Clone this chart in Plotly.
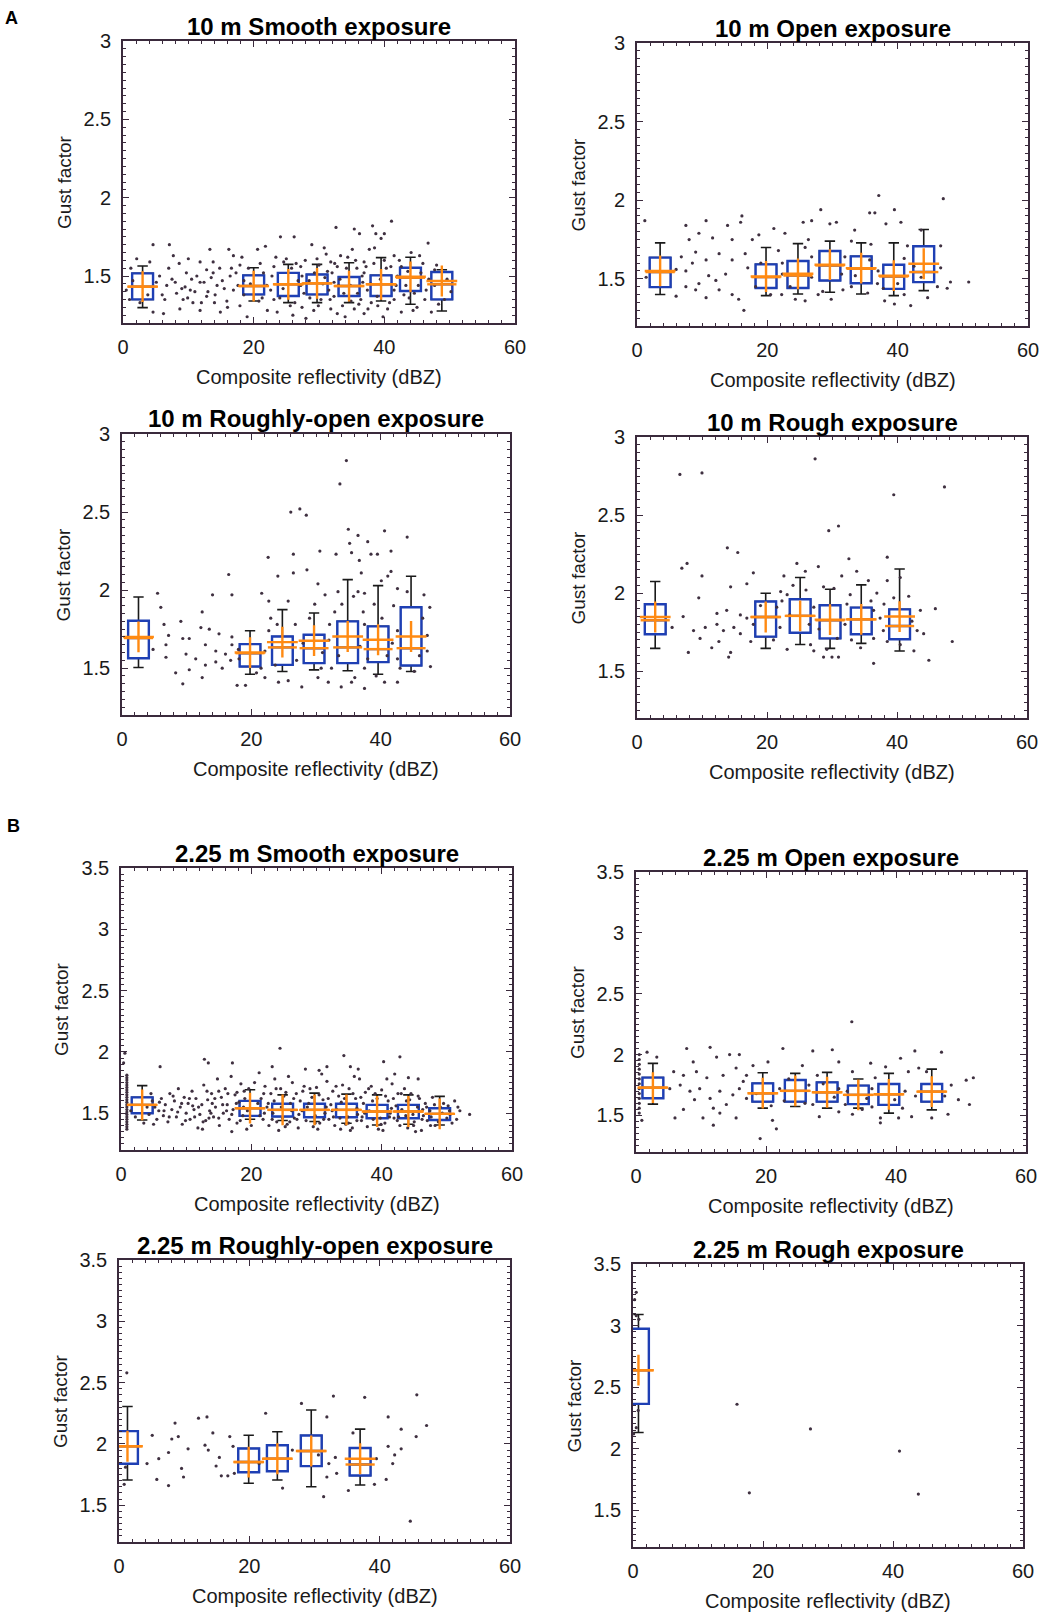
import plotly.graph_objects as go

# ---------------- data ----------------
TITLES = ["10 m Smooth exposure", "10 m Open exposure",
          "10 m Roughly-open exposure", "10 m Rough exposure",
          "2.25 m Smooth exposure", "2.25 m Open exposure",
          "2.25 m Roughly-open exposure", "2.25 m Rough exposure"]
X_TITLE = "Composite reflectivity (dBZ)"
Y_TITLE = "Gust factor"
X_TICKS = [0, 20, 40, 60]
Y_TICKS_A = [1.5, 2, 2.5, 3]
Y_TICK_TEXT_A = ["1.5", "2", "2.5", "3"]
Y_TICKS_B = [1.5, 2, 2.5, 3, 3.5]
Y_TICK_TEXT_B = ["1.5", "2", "2.5", "3", "3.5"]

# box statistics per panel: bin position, q1, median, q3, whisker low/high, mean
BX1 = [3.0, 20.0, 25.3, 29.7, 34.6, 39.5, 44.0, 48.8]
Q1_1 = [1.351, 1.383, 1.372, 1.383, 1.372, 1.372, 1.404, 1.351]
MED1 = [1.432, 1.436, 1.447, 1.453, 1.436, 1.447, 1.489, 1.447]
Q3_1 = [1.517, 1.504, 1.520, 1.510, 1.494, 1.504, 1.553, 1.526]
LO1 = [1.298, 1.340, 1.330, 1.330, 1.330, 1.340, 1.320, 1.277]
HI1 = [1.564, 1.553, 1.574, 1.574, 1.585, 1.617, 1.620, 1.540]
MEAN1 = [1.432, 1.436, 1.447, 1.453, 1.436, 1.447, 1.495, 1.468]

BX2 = [3.55, 19.8, 24.7, 29.6, 34.4, 39.4, 44.0]
Q1_2 = [1.447, 1.442, 1.442, 1.489, 1.472, 1.436, 1.479]
MED2 = [1.543, 1.511, 1.521, 1.585, 1.564, 1.515, 1.543]
Q3_2 = [1.635, 1.592, 1.613, 1.677, 1.643, 1.590, 1.707]
LO2 = [1.400, 1.393, 1.404, 1.415, 1.404, 1.393, 1.425]
HI2 = [1.729, 1.699, 1.724, 1.740, 1.729, 1.729, 1.814]
MEAN2 = [1.550, 1.515, 1.532, 1.590, 1.568, 1.520, 1.596]

BX3 = [2.55, 19.8, 24.8, 29.7, 34.9, 39.6, 44.7]
Q1_3 = [1.564, 1.511, 1.521, 1.532, 1.532, 1.539, 1.517]
MED3 = [1.693, 1.596, 1.633, 1.628, 1.633, 1.622, 1.628]
Q3_3 = [1.804, 1.654, 1.703, 1.714, 1.800, 1.768, 1.890]
LO3 = [1.504, 1.461, 1.479, 1.489, 1.483, 1.461, 1.479]
HI3 = [1.956, 1.740, 1.875, 1.853, 2.067, 2.029, 2.089]
MEAN3 = [1.700, 1.600, 1.667, 1.676, 1.703, 1.682, 1.703]

BX4 = [2.8, 19.8, 25.1, 29.7, 34.5, 40.4]
Q1_4 = [1.736, 1.721, 1.746, 1.710, 1.736, 1.704]
MED4 = [1.826, 1.847, 1.854, 1.826, 1.832, 1.789]
Q3_4 = [1.929, 1.946, 1.961, 1.922, 1.907, 1.896]
LO4 = [1.646, 1.646, 1.671, 1.646, 1.678, 1.629]
HI4 = [2.074, 1.999, 2.100, 2.025, 2.053, 2.154]
MEAN4 = [1.847, 1.847, 1.854, 1.830, 1.832, 1.850]

BX5 = [3.25, 19.8, 24.8, 29.7, 34.6, 39.3, 44.1, 48.9]
Q1_5 = [1.500, 1.478, 1.473, 1.467, 1.467, 1.459, 1.459, 1.445]
MED5 = [1.568, 1.541, 1.527, 1.527, 1.527, 1.514, 1.514, 1.495]
Q3_5 = [1.629, 1.601, 1.577, 1.577, 1.577, 1.568, 1.568, 1.541]
LO5 = [1.445, 1.451, 1.440, 1.432, 1.418, 1.404, 1.410, 1.404]
HI5 = [1.725, 1.692, 1.650, 1.664, 1.656, 1.650, 1.650, 1.637]
MEAN5 = [1.568, 1.541, 1.527, 1.527, 1.527, 1.514, 1.514, 1.495]

BX6 = [2.6, 19.5, 24.5, 29.4, 34.2, 38.9, 45.5]
Q1_6 = [1.642, 1.614, 1.614, 1.614, 1.593, 1.587, 1.614]
MED6 = [1.729, 1.683, 1.702, 1.691, 1.669, 1.674, 1.696]
Q3_6 = [1.811, 1.764, 1.792, 1.772, 1.745, 1.759, 1.759]
LO6 = [1.593, 1.560, 1.574, 1.560, 1.560, 1.519, 1.546]
HI6 = [1.928, 1.851, 1.846, 1.854, 1.800, 1.846, 1.881]
MEAN6 = [1.729, 1.683, 1.702, 1.691, 1.669, 1.674, 1.696]

BX7 = [1.3, 19.9, 24.3, 29.5, 37.0]
Q1_7 = [1.838, 1.769, 1.777, 1.819, 1.742]
MED7 = [1.981, 1.852, 1.879, 1.942, 1.832]
Q3_7 = [2.104, 1.962, 1.989, 2.069, 1.967]
LO7 = [1.706, 1.679, 1.706, 1.651, 1.665]
HI7 = [2.305, 2.071, 2.099, 2.277, 2.121]
MEAN7 = [1.981, 1.852, 1.879, 1.942, 1.879]

BX8 = [0.84]
Q1_8 = [2.363]
MED8 = [2.637]
Q3_8 = [2.974]
LO8 = [2.130]
HI8 = [3.089]
MEAN8 = [2.637]

# individual observations (reflectivity, gust factor)
PTS1 = [(32.6,1.81),(41.1,1.85),(38.2,1.82),(38.7,1.77),(40,1.77),(36.2,1.77),(35.4,1.80),(39.5,1.74),
        (24.1,1.75),(26.2,1.75),(46.7,1.71),(4.6,1.70),(7.1,1.70),(13.3,1.67),(16.2,1.67),(20.6,1.67),
        (21.8,1.69),(28.9,1.70),(30.8,1.68),(35.1,1.67),(37.7,1.67),(38.5,1.68),(45.4,1.63),(41.5,1.63),
        (44.1,1.65),(2.1,1.61),(4.1,1.59),(7.7,1.63),(10,1.61),(11.8,1.59),(13.8,1.59),(16.9,1.63),
        (17.9,1.57),(24.6,1.59),(27.2,1.56),(29.7,1.61),(31.8,1.59),(33.3,1.63),(34.4,1.62),(36.9,1.59),
        (42.6,1.56),(47.7,1.54),(0.5,1.41),(5.1,1.46),(6.7,1.44),(8.2,1.39),(9.2,1.35),(10.3,1.41),
        (11.8,1.46),(12.8,1.37),(14.4,1.44),(15.9,1.34),(16.9,1.41),(17.9,1.31),(4.6,1.27),(6.2,1.26),
        (8.7,1.29),(11.8,1.28),(14.9,1.27),(19,1.24),(22.1,1.28),(23.1,1.35),(27.4,1.30),(28,1.23),
        (31.8,1.29),(32.3,1.37),(32.8,1.26),(35.4,1.29),(36.4,1.35),(36.9,1.26),(40.5,1.29),(41.5,1.35),
        (42.6,1.27),(46.2,1.35),(46.4,1.41),(47.2,1.27),(49.2,1.35),(41.5,1.41),(37.4,1.41),(32.3,1.46),
        (27.2,1.44),(22.6,1.41),(9.7,1.52),(11.3,1.50),(13.8,1.52),(16.4,1.50),(12.8,1.54),(31.3,1.53),
        (36.9,1.52),(45.6,1.52),(44.6,1.39),(47.7,1.44),(21.5,1.52),(22,1.44),(23.1,1.56),(27.4,1.50),
        (27.7,1.39),(31.5,1.41),(32,1.52),(36.7,1.46),(37.2,1.56),(42,1.50),(41,1.56),(32.8,1.56),
        (33.8,1.39),(30.3,1.35),(25.6,1.31),(23.6,1.27),(39,1.31),(34.9,1.34),(1.2,1.55),(7.5,1.48),
        (9.5,1.43),(13.0,1.40),(15.2,1.47),(18.5,1.38),(19.5,1.45),(24.0,1.36),(26.5,1.58),(28.5,1.47),
        (30.9,1.49),(33.0,1.44),(35.9,1.39),(38.0,1.33),(40.0,1.60),(43.3,1.44),(45.0,1.30),(48.3,1.32),
        (2.6,1.33),(6.0,1.38),(10.7,1.33),(14.0,1.33),(17.3,1.52),(20.8,1.34),(26.0,1.25),(29.2,1.28),
        (34.0,1.24),(37.5,1.29),(39.8,1.24),(43.8,1.36),(30.0,1.57),(35.8,1.55),(25.0,1.61),
        (18.5,1.47),(19.2,1.55),(21.0,1.58),(21.3,1.36),(22.8,1.50),(23.4,1.62),(24.5,1.42),(25.8,1.55),
        (26.3,1.33),(26.8,1.47),(27.9,1.60),(28.6,1.36),(29.3,1.52),(29.9,1.31),(30.6,1.45),(31.1,1.64),
        (31.7,1.35),(32.4,1.58),(33.2,1.48),(33.6,1.31),(34.2,1.55),(34.8,1.44),(35.6,1.60),(36.1,1.32),
        (36.6,1.50),(37.9,1.45),(38.4,1.58),(38.9,1.37),(39.4,1.48),(40.3,1.55),(40.8,1.33),(41.8,1.44),
        (42.3,1.60),(43.0,1.38),(43.6,1.53),(44.4,1.28),(45.2,1.44),(45.9,1.58),(46.8,1.48),(48.0,1.57),
        (49.6,1.48),(50.2,1.40),(5.6,1.50),(6.4,1.35),(7.0,1.55),(8.0,1.46),(8.6,1.58),(9.0,1.42),
        (9.9,1.36),(10.5,1.48),(11.0,1.40),(12.0,1.33),(12.4,1.46),(13.5,1.49),(14.1,1.38),(14.8,1.55),
        (15.5,1.42),(16.0,1.30),(16.6,1.55),(17.6,1.44),(18.2,1.62),(3.8,1.38),(1.5,1.47),(1.0,1.35)]

PTS2 = [(37.1,2.03),(47,2.01),(28.2,1.94),(39.5,1.94),(35.7,1.92),(36.5,1.92),(16.1,1.90),(15.9,1.86),
        (10.6,1.87),(7.5,1.84),(1.2,1.87),(25.5,1.86),(26.8,1.87),(29.6,1.85),(30.6,1.86),(38.2,1.85),
        (40.5,1.86),(33.4,1.81),(43.6,1.81),(13.9,1.84),(21,1.82),(22.7,1.79),(18.7,1.78),(9.5,1.79),
        (8,1.75),(11.6,1.76),(14.6,1.75),(17.7,1.75),(26.3,1.75),(25.8,1.70),(32.9,1.74),(35.9,1.72),
        (41.5,1.71),(46.6,1.71),(6.8,1.64),(9,1.67),(10.6,1.62),(12.6,1.66),(14.6,1.62),(16.6,1.66),
        (21.7,1.68),(22.3,1.60),(26.8,1.64),(31.9,1.64),(35.7,1.62),(41,1.63),(48.1,1.48),(50.9,1.48),
        (6,1.39),(7.5,1.45),(9,1.43),(10.6,1.38),(12.6,1.43),(14.6,1.40),(15.6,1.37),(16.4,1.30),
        (18.2,1.45),(12.1,1.49),(13.6,1.53),(9.5,1.47),(7.5,1.55),(22.2,1.40),(24.3,1.37),(25.8,1.36),
        (27.8,1.40),(29.8,1.37),(31.6,1.43),(32.9,1.45),(35.4,1.41),(36.9,1.47),(38,1.36),(39.5,1.34),
        (42,1.33),(41,1.40),(46.1,1.45),(44.6,1.38),(47.6,1.44),(46.6,1.57),(37,1.55),(31.4,1.53),
        (26.8,1.51),(22.3,1.53),(6,1.56),(1.4,1.51),(43.6,1.51),(11.0,1.52),(8.5,1.60),(17.0,1.57),
        (23.5,1.45),(28.5,1.42),(33.5,1.52),(37.8,1.44),(40.0,1.47),(42.5,1.58),(20.5,1.40),(19.0,1.60)]

PTS3 = [(34.7,2.83),(33.7,2.68),(26.1,2.50),(27.5,2.52),(28.5,2.48),(35,2.39),(36.5,2.35),(40.6,2.38),
        (38,2.31),(44.1,2.34),(35.2,2.30),(30.6,2.25),(41.6,2.25),(35.5,2.24),(38.5,2.23),(39.5,2.23),
        (26.5,2.23),(22.6,2.21),(33.1,2.23),(36.7,2.19),(28.6,2.13),(26.5,2.11),(16.5,2.10),(41.6,2.12),
        (41.1,2.09),(24.1,2.09),(36.5,1.99),(37.5,1.98),(37,2.11),(40.1,2.06),(5.5,1.98),(14,1.97),
        (17,1.97),(21.6,1.98),(30.3,2.04),(31.4,1.97),(33.4,1.99),(42.6,2.01),(46.7,1.97),(44.1,1.99),
        (6,1.89),(12.4,1.86),(47.6,1.89),(22.7,1.93),(25.7,1.93),(29.8,1.91),(32.9,1.86),(39,1.91),
        (6.5,1.78),(9.1,1.80),(7.2,1.71),(6.8,1.65),(4.8,1.62),(6.8,1.57),(9.4,1.69),(10.4,1.69),
        (12.2,1.76),(13.5,1.75),(15,1.72),(17,1.70),(12.9,1.65),(14.5,1.61),(16,1.59),(9.9,1.59),
        (11.4,1.56),(12.9,1.52),(8.3,1.47),(10.4,1.49),(12.4,1.44),(9.4,1.40),(17.8,1.39),(19.1,1.39),
        (22.1,1.44),(24.2,1.41),(25.7,1.42),(27.8,1.38),(30.3,1.44),(31.9,1.41),(33.9,1.38),(35.5,1.41),
        (37.5,1.37),(40.6,1.41),(42.6,1.41),(45.2,1.48),(47.7,1.51),(47.2,1.61),(22.1,1.61),(22.7,1.74),
        (26.8,1.78),(32.1,1.78),(37.5,1.78),(42.6,1.74),(47.2,1.71),(17,1.65),(18.1,1.56),(23.7,1.52),
        (32.4,1.50),(37.5,1.50),(42.6,1.56),(14.5,1.54),(15.5,1.50),(16.8,1.55),(18.0,1.62),(21.5,1.50),
        (27.0,1.55),(28.0,1.66),(31.0,1.60),(32.0,1.68),(33.5,1.58),(36.8,1.64),(37.3,1.86),(38.0,1.56),
        (41.8,1.66),(42.0,1.90),(43.0,1.50),(46.0,1.58),(46.5,1.82),(35.8,1.96),(34.0,1.91),(36.0,1.44),
        (39.3,1.45),(40.2,1.82),(41.0,1.58),(20.8,1.47),(23.0,1.82),(24.0,1.78),(29.0,1.82),(30.8,1.50)]

PTS4 = [(27.4,2.86),(6.6,2.76),(10,2.77),(47.3,2.68),(39.5,2.63),(31,2.43),(29.5,2.40),(13.9,2.29),
        (15.5,2.26),(32.6,2.22),(38.5,2.23),(6.9,2.16),(7.7,2.19),(24.6,2.19),(27.9,2.17),(25.9,2.14),
        (33.8,2.14),(35.6,2.08),(10,2.11),(17.9,2.13),(22.6,2.11),(31.5,2.11),(40.5,2.10),(38.5,2.08),
        (9.5,1.97),(14.4,2.04),(16.9,2.06),(22.1,2.01),(23.1,1.99),(28.7,2.04),(30.3,2.03),(32.8,1.99),
        (36.9,2.00),(39.5,1.97),(45.9,1.90),(12.3,1.87),(13.8,1.89),(15.9,1.86),(16.9,1.84),(21.5,1.91),
        (22.3,1.95),(27.2,1.91),(32.3,1.93),(36.4,1.89),(37.4,1.84),(43.6,1.89),(42.3,1.82),(5.4,1.78),
        (7.1,1.85),(8.7,1.76),(10.5,1.78),(12.3,1.80),(13.3,1.76),(14.9,1.78),(15.9,1.74),(17.9,1.80),
        (37.9,1.76),(43.1,1.76),(44.1,1.74),(48.5,1.69),(38.5,1.69),(36.4,1.71),(30.8,1.71),(26.7,1.67),
        (23.1,1.64),(9.7,1.71),(11.5,1.65),(12.6,1.69),(7.9,1.62),(14.1,1.59),(14.4,1.62),(27.2,1.63),
        (28.7,1.59),(30,1.59),(31,1.59),(29.2,1.64),(42.6,1.63),(36.4,1.55),(44.9,1.57),(40.5,1.67),
        (34.4,1.65),(22.0,1.78),(23.5,1.86),(26.5,1.80),(28.0,1.77),(32.0,1.80),(33.0,1.70),(36.0,1.95),
        (38.0,1.93),(41.8,1.98),(17.5,1.69),(19.0,1.92),(21.0,1.70),(24.0,2.05),(26.0,2.02)]

PTS5 = [(24.4,2.03),(34.2,1.97),(42.8,1.96),(12.8,1.94),(13.4,1.91),(6,1.88),(17.1,1.91),(40.3,1.92),
        (28.3,1.86),(30.4,1.85),(31.6,1.88),(35.2,1.88),(36.4,1.86),(42,1.82),(44.1,1.79),(45.6,1.78),
        (23.2,1.88),(21.2,1.83),(0.4,1.91),(0.6,1.99),(53.5,1.49),(51.7,1.55),
        (0.9,1.37),(0.9,1.39),(0.9,1.41),(0.9,1.43),(0.9,1.45),(0.9,1.47),(0.9,1.49),(0.9,1.51),
        (0.9,1.53),(0.9,1.55),(0.9,1.57),(0.9,1.59),(0.9,1.61),(0.9,1.63),(0.9,1.65),(0.9,1.67),
        (0.9,1.69),(0.9,1.71),(0.9,1.73),(0.9,1.75),(0.9,1.77),(0.9,1.79),(0.9,1.81),
        (1.5,1.52),(2.2,1.47),(4.8,1.60),(5.2,1.55),(5.5,1.45),(4.6,1.66),(3.5,1.42),(5.8,1.52),
        (6.2,1.62),(6.5,1.48),(6.8,1.57),(7.2,1.43),(7.5,1.66),(7.8,1.53),(8.2,1.60),(8.5,1.47),
        (8.8,1.70),(9.1,1.55),(9.4,1.41),(9.7,1.63),(10.0,1.50),(10.3,1.58),(10.6,1.45),(10.9,1.68),
        (11.2,1.53),(11.5,1.62),(11.8,1.38),(12.1,1.49),(12.4,1.57),(12.7,1.73),(13.0,1.44),(13.3,1.61),
        (13.6,1.52),(13.9,1.66),(14.2,1.47),(14.5,1.55),(14.8,1.78),(15.1,1.40),(15.4,1.63),(15.7,1.50),
        (16.0,1.70),(16.3,1.57),(16.6,1.45),(16.9,1.80),(17.2,1.53),(17.5,1.65),(17.8,1.42),(18.1,1.59),
        (18.4,1.74),(18.7,1.48),(19.0,1.62),(19.3,1.37),(19.6,1.70),(21.5,1.62),(21.8,1.45),(22.1,1.72),
        (22.4,1.55),(22.7,1.40),(23.0,1.66),(23.3,1.50),(23.6,1.78),(23.9,1.43),(24.2,1.36),(24.5,1.70),
        (25.0,1.64),(25.5,1.41),(26.0,1.58),(26.3,1.75),(26.6,1.46),(26.9,1.66),(27.2,1.38),(27.5,1.60),
        (27.8,1.52),(28.1,1.72),(28.4,1.44),(29.0,1.70),(29.5,1.39),(30.0,1.71),(30.5,1.42),(31.0,1.61),
        (31.3,1.50),(31.6,1.76),(31.9,1.45),(32.2,1.57),(32.5,1.68),(32.8,1.40),(33.1,1.53),(33.4,1.64),
        (33.7,1.37),(34.0,1.73),(34.5,1.41),(35.0,1.70),(35.5,1.38),(36.0,1.62),(36.3,1.49),(36.6,1.78),
        (36.9,1.44),(37.2,1.58),(37.5,1.67),(37.8,1.39),(38.1,1.52),(38.4,1.72),(39.0,1.66),(39.5,1.37),
        (40.0,1.69),(40.5,1.42),(41.0,1.60),(41.3,1.50),(41.6,1.74),(41.9,1.46),(42.2,1.56),(42.5,1.66),
        (42.8,1.40),(43.1,1.53),(43.5,1.70),(44.0,1.38),(44.5,1.66),(45.0,1.43),(45.5,1.55),(45.8,1.62),
        (46.1,1.36),(46.4,1.48),(46.7,1.58),(47.0,1.44),(47.4,1.52),(47.8,1.63),(48.2,1.40),(49.5,1.58),
        (50.0,1.46),(50.4,1.52),(50.8,1.42),(51.2,1.60),(20.5,1.75),(25.7,1.80),(30.8,1.82),(35.8,1.80),
        (40.8,1.78),(20.0,1.40),(25.2,1.39),(30.2,1.37),(35.2,1.36),(40.2,1.36),(45.2,1.35),(17.0,1.35),
        (12.5,1.37),(14.0,1.58),(15.0,1.68),(16.2,1.52),(17.8,1.67),(18.8,1.55),(21.0,1.58),(22.0,1.50),
        (23.5,1.60),(24.8,1.46),(26.2,1.52),(27.0,1.45),(28.8,1.58),(29.8,1.48),(31.5,1.55),(32.6,1.47),
        (33.8,1.59),(34.8,1.47),(36.2,1.54),(37.0,1.47),(38.6,1.60),(39.8,1.46),(41.5,1.54),(42.6,1.47),
        (43.8,1.60),(44.8,1.49),(46.3,1.53),(47.6,1.47),(49.0,1.55),(50.5,1.49),(13.5,1.46),(11.0,1.56),
        (4.0,1.55),(4.3,1.49),(5.0,1.41),(5.9,1.59),(6.6,1.52),(7.4,1.47),(8.0,1.64),(8.7,1.51),
        (9.3,1.58),(9.9,1.44),(10.5,1.62),(11.3,1.47),(11.9,1.55),(12.6,1.43),(13.2,1.68),(13.8,1.50),
        (14.4,1.62),(15.0,1.46),(15.6,1.57),(16.4,1.66),(17.0,1.49),(17.7,1.58),(18.3,1.44),(18.9,1.68),
        (19.4,1.52),(21.3,1.48),(21.9,1.66),(22.6,1.58),(23.2,1.45),(23.8,1.70),(24.6,1.55),(25.3,1.67),
        (25.9,1.43),(26.5,1.62),(27.3,1.49),(27.9,1.68),(28.6,1.55),(29.3,1.63),(29.8,1.42),(30.4,1.65),
        (31.1,1.45),(31.8,1.62),(32.4,1.52),(33.0,1.72),(33.6,1.46),(34.3,1.62),(34.9,1.42),(35.6,1.66),
        (36.2,1.44),(36.8,1.63),(37.4,1.50),(38.0,1.70),(38.7,1.45),(39.3,1.62),(39.9,1.41),(40.6,1.64),
        (41.2,1.47),(41.8,1.62),(42.4,1.44),(43.0,1.66),(43.7,1.48),(44.3,1.61),(44.9,1.40),(45.6,1.64),
        (46.2,1.45),(46.9,1.55),(47.5,1.40),(48.1,1.57),(48.7,1.43),(49.3,1.50),(50.2,1.56),(51.5,1.45),
        (52.0,1.52)]

PTS6 = [(33.2,2.27),(7.8,2.05),(22.6,2.05),(27.2,2.03),(30.2,2.04),(42.9,2.03),(47,2.02),(11.4,2.06),
        (14.4,2.00),(15.9,2.00),(1.7,2.02),(3.2,1.98),(8.8,1.94),(12.4,1.98),(18,1.91),(20.3,1.94),
        (25.6,1.91),(27.9,1.83),(31.2,1.94),(33.3,1.86),(36.1,1.93),(38.4,1.90),(40.7,1.97),(41.9,1.86),
        (43.5,1.89),(44.7,1.86),(5.8,1.86),(7.3,1.83),(9.3,1.86),(10.9,1.81),(13.4,1.83),(15.4,1.89),
        (17,1.83),(48.5,1.75),(50.8,1.79),(51.9,1.81),(49.6,1.63),(51.3,1.59),(48,1.51),(45.5,1.48),
        (5.2,1.72),(6.8,1.75),(8.3,1.70),(9.8,1.72),(11.4,1.64),(12.9,1.70),(13.9,1.59),(14.9,1.67),
        (15.9,1.72),(17,1.64),(11.9,1.56),(12.9,1.52),(10.3,1.48),(11.9,1.42),(15.4,1.48),(7.3,1.55),
        (6,1.48),(19.1,1.31),(21.6,1.39),(21,1.46),(22.1,1.72),(26.6,1.75),(27.2,1.59),(28.2,1.49),
        (31.2,1.53),(32.2,1.59),(33.3,1.51),(34.8,1.55),(36.3,1.57),(37.6,1.44),(37.6,1.48),(40.4,1.48),
        (42.4,1.49),(41.4,1.70),(36.3,1.72),(31.2,1.72),
        (0.5,1.52),(0.5,1.56),(0.5,1.60),(0.5,1.64),(0.5,1.68),(0.5,1.72),(0.5,1.76),(0.5,1.80),
        (0.5,1.84),(0.5,1.88),(0.5,1.92),(0.5,1.96),(0.5,2.00),(0.9,1.46),
        (16.5,1.78),(18.5,1.68),(22.8,1.62),(23.5,1.80),(26.0,1.60),(28.8,1.76),(30.5,1.65),(32.5,1.70),
        (35.5,1.64),(36.8,1.81),(39.8,1.63),(41.0,1.56),(43.0,1.66),(47.5,1.66),(20.8,1.58),(9.0,1.63)]

PTS7 = [(1.2,2.58),(32.9,2.39),(37.7,2.38),(45.7,2.40),(28,2.33),(22.5,2.25),(41.3,2.22),(12.2,2.21),
        (13.5,2.22),(31.9,2.22),(8.6,2.17),(47.2,2.15),(43.3,2.12),(45.6,2.06),(5.1,2.07),(8.1,2.04),
        (9.1,2.06),(17,2.06),(14.4,2.09),(35.9,2.09),(41.3,1.98),(43.3,1.96),(10.6,1.96),(7.6,1.93),
        (13.2,1.99),(13.7,1.95),(15.4,1.89),(14.9,1.82),(9.6,1.80),(6.1,1.88),(4.3,1.84),(5.8,1.71),
        (9.9,1.73),(7.6,1.66),(15.7,1.74),(16.7,1.74),(17.7,1.76),(30.6,1.91),(32.2,1.84),(33.2,1.89),
        (33.4,1.76),(31.9,1.73),(31.4,1.57),(42,1.84),(42.3,1.91),(41,1.71),(39.2,1.67),(35.2,1.62),
        (25.1,1.64),(44.7,1.37),(0.8,1.67),(1,1.81),(39.5,1.88),(17.5,1.98),(26.6,1.95),(21.5,1.84)]

PTS8 = [(16,2.36),(17.9,1.64),(27.3,2.16),(41,1.98),(43.9,1.63),(0.5,3.27),(0.25,3.21),(0.5,3.08),
        (0.9,3.05),(0.8,2.31),(0.5,2.17),(0.1,2.12)]

# ---------------- style ----------------
FRAME = "#3a2a3c"
DOT = "#3f3040"
BLUE = "#1e3fb4"
ORANGE = "#ff8a12"
WHISK = "#1a1a1a"
FONT = "Liberation Sans"
BOX_W = 3.2

W, H = 1044, 1612

# plot rectangles in page pixels: left, right, top, bottom
RECTS = [(123, 515, 41, 323), (637, 1028, 43, 326),
         (122, 510, 434, 715), (637, 1027, 437, 718),
         (121, 512, 868, 1150), (636, 1026, 872, 1152),
         (119, 510, 1260, 1542), (633, 1023, 1264, 1547)]


def px_x(p):
    return p / W


def px_y(p):
    return 1 - p / H


PANELS = [
    (PTS1, BX1, Q1_1, MED1, Q3_1, LO1, HI1, MEAN1),
    (PTS2, BX2, Q1_2, MED2, Q3_2, LO2, HI2, MEAN2),
    (PTS3, BX3, Q1_3, MED3, Q3_3, LO3, HI3, MEAN3),
    (PTS4, BX4, Q1_4, MED4, Q3_4, LO4, HI4, MEAN4),
    (PTS5, BX5, Q1_5, MED5, Q3_5, LO5, HI5, MEAN5),
    (PTS6, BX6, Q1_6, MED6, Q3_6, LO6, HI6, MEAN6),
    (PTS7, BX7, Q1_7, MED7, Q3_7, LO7, HI7, MEAN7),
    (PTS8, BX8, Q1_8, MED8, Q3_8, LO8, HI8, MEAN8),
]

fig = go.Figure()
annotations = []
layout_axes = {}

for i, (pts, bx, q1, med, q3, lo, hi, mean) in enumerate(PANELS):
    n = i + 1
    xr = "x" if n == 1 else f"x{n}"
    yr = "y" if n == 1 else f"y{n}"
    l, r, t, b = RECTS[i]
    xd = [px_x(l), px_x(r)]
    yd = [px_y(b), px_y(t)]
    px_per_unit = (r - l) / 60.0

    fig.add_trace(go.Scatter(x=[p[0] for p in pts], y=[p[1] for p in pts], mode="markers",
                             marker=dict(size=3.2, color=DOT), xaxis=xr, yaxis=yr,
                             showlegend=False, hoverinfo="skip"))
    # whiskers (black)
    fig.add_trace(go.Box(x=bx, q1=q1, median=med, q3=q3, lowerfence=lo, upperfence=hi,
                         width=BOX_W, whiskerwidth=0.5, boxpoints=False,
                         line=dict(color=WHISK, width=1.6), fillcolor="white",
                         xaxis=xr, yaxis=yr, showlegend=False, hoverinfo="skip"))
    # boxes (blue)
    fig.add_trace(go.Box(x=bx, q1=q1, median=med, q3=q3, lowerfence=q1, upperfence=q3,
                         width=BOX_W, whiskerwidth=0, boxpoints=False,
                         line=dict(color=BLUE, width=2.4), fillcolor="white",
                         xaxis=xr, yaxis=yr, showlegend=False, hoverinfo="skip"))
    # median (orange line) and mean (orange cross)
    fig.add_trace(go.Scatter(x=bx, y=med, mode="markers",
                             marker=dict(symbol="line-ew", size=BOX_W * px_per_unit,
                                         line=dict(color=ORANGE, width=2.4)),
                             xaxis=xr, yaxis=yr, showlegend=False, hoverinfo="skip"))
    fig.add_trace(go.Scatter(x=bx, y=mean, mode="markers",
                             marker=dict(symbol="cross-thin", size=22,
                                         line=dict(color=ORANGE, width=2.4)),
                             xaxis=xr, yaxis=yr, showlegend=False, hoverinfo="skip"))

    is_b = i >= 4
    yrange = [1.2, 3.5] if is_b else [1.2, 3.0]
    yticks = Y_TICKS_B if is_b else Y_TICKS_A
    ytext = Y_TICK_TEXT_B if is_b else Y_TICK_TEXT_A

    common = dict(showline=True, linecolor=FRAME, linewidth=1.6, mirror="allticks",
                  ticks="inside", ticklen=6, tickwidth=1.3, tickcolor=FRAME,
                  showgrid=False, zeroline=False, automargin=False,
                  tickfont=dict(family=FONT, size=20, color="#1a1a1a"))
    layout_axes[f"xaxis{'' if n == 1 else n}"] = dict(
        domain=xd, anchor=yr, range=[0, 60], tickvals=X_TICKS,
        ticktext=[str(v) for v in X_TICKS], ticklabelstandoff=5,
        minor=dict(ticks="inside", dtick=2, tick0=0, ticklen=3, tickcolor=FRAME, tickwidth=1.2),
        **common)
    layout_axes[f"yaxis{'' if n == 1 else n}"] = dict(
        domain=yd, anchor=xr, range=yrange, tickvals=yticks, ticktext=ytext,
        ticklabelstandoff=6,
        minor=dict(ticks="inside", dtick=0.05, tick0=1.2, ticklen=3, tickcolor=FRAME, tickwidth=1.2),
        **common)

    xc = (xd[0] + xd[1]) / 2
    annotations.append(dict(text=f"<b>{TITLES[i]}</b>", x=xc, y=yd[1], xref="paper", yref="paper",
                            xanchor="center", yanchor="middle", yshift=15, showarrow=False,
                            font=dict(family=FONT, size=24, color="black")))
    annotations.append(dict(text=X_TITLE, x=xc, y=yd[0], xref="paper", yref="paper",
                            xanchor="center", yanchor="middle", yshift=-54, showarrow=False,
                            font=dict(family=FONT, size=20, color="#1a1a1a")))
    annotations.append(dict(text=Y_TITLE, x=xd[0], y=(yd[0] + yd[1]) / 2, xref="paper", yref="paper",
                            xanchor="center", yanchor="middle", xshift=-59, textangle=-90,
                            showarrow=False, font=dict(family=FONT, size=19, color="#1a1a1a")))

annotations.append(dict(text="<b>A</b>", x=px_x(11), y=px_y(18), xref="paper", yref="paper",
                        xanchor="center", yanchor="middle", showarrow=False,
                        font=dict(family=FONT, size=18, color="black")))
annotations.append(dict(text="<b>B</b>", x=px_x(13), y=px_y(826), xref="paper", yref="paper",
                        xanchor="center", yanchor="middle", showarrow=False,
                        font=dict(family=FONT, size=18, color="black")))

fig.update_layout(width=W, height=H, margin=dict(l=0, r=0, t=0, b=0, pad=0, autoexpand=False),
                  paper_bgcolor="white", plot_bgcolor="white", boxmode="overlay",
                  showlegend=False, annotations=annotations, **layout_axes)

fig.write_html("out.html", config={"displayModeBar": False},
               post_script="document.body.style.margin='0px';document.body.style.overflow='hidden';")
